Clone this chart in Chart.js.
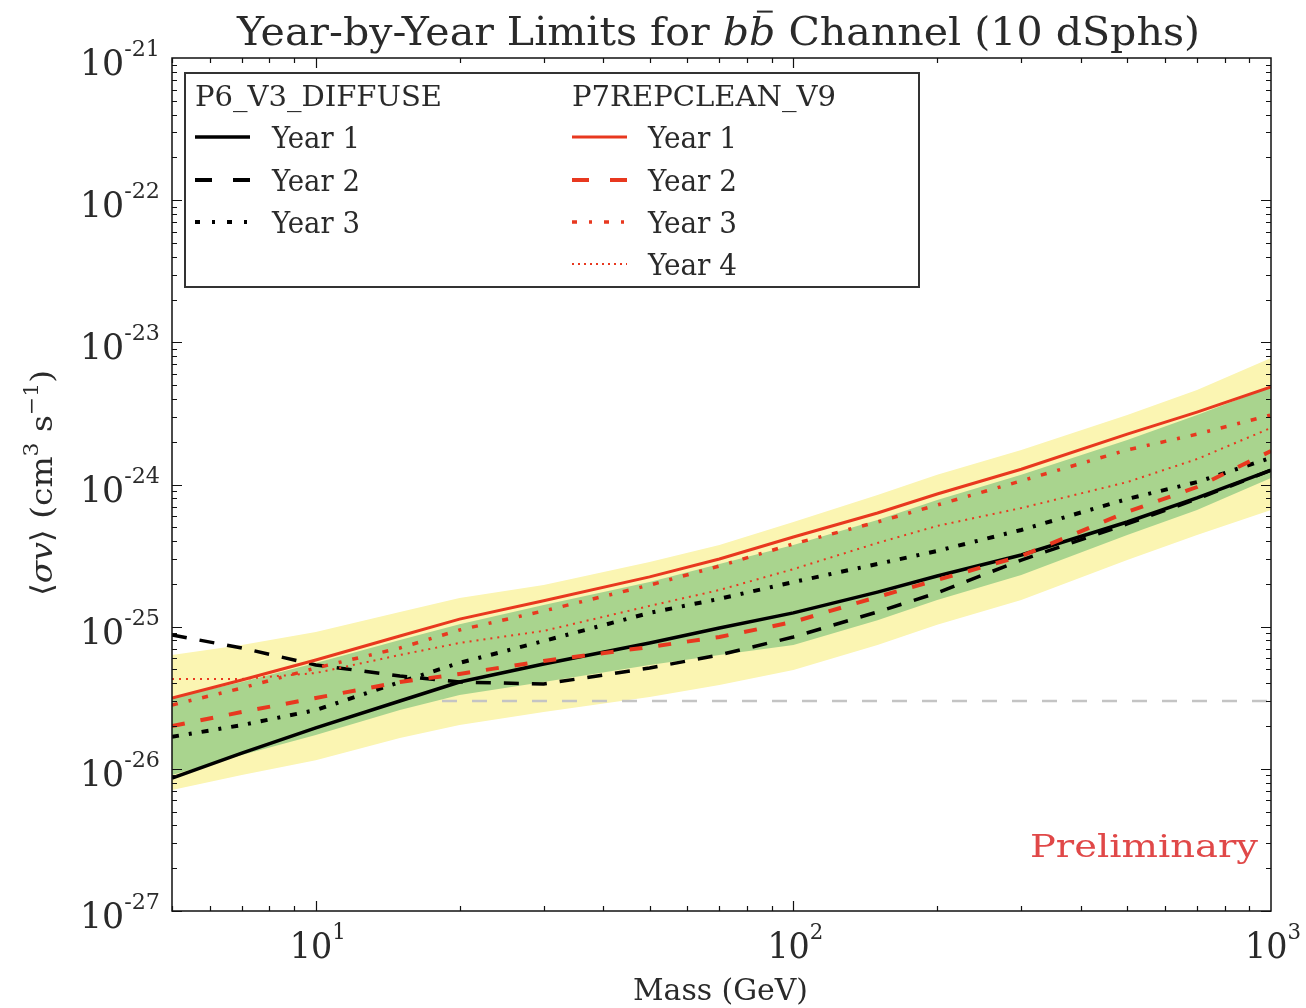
<!DOCTYPE html>
<html>
<head>
<meta charset="utf-8">
<script src="https://cdn.jsdelivr.net/npm/chart.js@4.4.1/dist/chart.umd.min.js"></script>
<style>
  body { margin: 0; background: #fff; }
  canvas { display: block; }
</style>
</head>
<body>
<canvas id="limits" width="1306" height="1008"></canvas>
<script>
// masses (GeV) the curves were read at
const mass = [5, 7, 10, 15, 20, 30, 50, 70, 100, 150, 200, 300, 500, 700, 1000];

// P6_V3_DIFFUSE limits
const p6Year1 = [8.62e-27, 1.29e-26, 1.94e-26, 3.00e-26, 4.08e-26, 5.47e-26, 7.68e-26, 9.79e-26, 1.25e-25, 1.75e-25, 2.27e-25, 3.19e-25, 5.45e-25, 8.04e-25, 1.26e-24];
const p6Year2 = [8.74e-26, 7.08e-26, 5.38e-26, 4.50e-26, 4.08e-26, 3.95e-26, 5.12e-26, 6.32e-26, 8.46e-26, 1.27e-25, 1.73e-25, 2.94e-25, 5.28e-25, 7.91e-25, 1.26e-24];
const p6Year3 = [1.68e-26, 2.03e-26, 2.59e-26, 4.08e-26, 5.56e-26, 7.93e-26, 1.25e-25, 1.57e-25, 2.06e-25, 2.76e-25, 3.41e-25, 4.79e-25, 7.91e-25, 1.04e-24, 1.54e-24];

// P7REPCLEAN_V9 limits
const p7Year1 = [3.15e-26, 4.22e-26, 5.83e-26, 8.60e-26, 1.13e-25, 1.52e-25, 2.24e-25, 2.99e-25, 4.27e-25, 6.30e-25, 8.58e-25, 1.28e-24, 2.26e-24, 3.23e-24, 4.85e-24];
const p7Year2 = [2.00e-26, 2.51e-26, 3.15e-26, 4.08e-26, 4.65e-26, 5.74e-26, 7.20e-26, 8.46e-26, 1.08e-25, 1.62e-25, 2.13e-25, 3.14e-25, 6.41e-25, 9.60e-25, 1.72e-24];
const p7Year3 = [2.81e-26, 3.70e-26, 5.12e-26, 7.08e-26, 9.48e-26, 1.29e-25, 1.96e-25, 2.67e-25, 3.82e-25, 5.45e-25, 7.17e-25, 1.06e-24, 1.75e-24, 2.26e-24, 3.08e-24];
const p7Year4 = [4.29e-26, 4.29e-26, 4.72e-26, 6.32e-26, 7.68e-26, 9.33e-26, 1.40e-25, 1.81e-25, 2.54e-25, 3.88e-25, 5.11e-25, 6.83e-25, 1.04e-24, 1.51e-24, 2.50e-24];

// expected sensitivity bands
const band68Upper = [3.15e-26, 4.08e-26, 5.56e-26, 8.06e-26, 1.04e-25, 1.42e-25, 2.06e-25, 2.76e-25, 3.75e-25, 5.63e-25, 7.78e-25, 1.17e-24, 2.06e-24, 3.08e-24, 4.85e-24];
const band68Lower = [9.05e-27, 1.25e-26, 1.73e-26, 2.59e-26, 3.31e-26, 4.08e-26, 5.38e-26, 6.32e-26, 7.43e-26, 1.11e-25, 1.54e-25, 2.31e-25, 4.41e-25, 6.62e-25, 1.11e-24];
const band95Upper = [6.32e-26, 7.43e-26, 9.18e-26, 1.27e-25, 1.59e-25, 1.96e-25, 2.85e-25, 3.75e-25, 5.45e-25, 8.44e-25, 1.17e-24, 1.75e-24, 3.08e-24, 4.62e-24, 7.76e-24];
const band95Lower = [7.10e-27, 9.05e-27, 1.15e-26, 1.65e-26, 2.03e-26, 2.51e-26, 3.20e-26, 3.89e-26, 4.96e-26, 7.43e-26, 1.03e-25, 1.54e-25, 2.94e-25, 4.41e-25, 6.62e-25];

// thermal relic cross section
const relicMass = [5, 1000];
const relicValue = [3e-26, 3e-26];

// axis decades
const yTickExps = [-27, -26, -25, -24, -23, -22, -21];
const xTickExps = [1, 2, 3];

const RED = '#e8381f';
const INK = '#2a2a2a';
const FONT = 'DejaVu Serif';

const pts = (vals, xs = mass) => vals.map((v, i) => ({ x: xs[i], y: v }));

function line(data, color, width, dash) {
  return {
    data: pts(data), borderColor: color, borderWidth: width, borderDash: dash,
    borderCapStyle: 'butt', pointRadius: 0, fill: false, tension: 0
  };
}

// draw a run of text pieces, squeezed horizontally to fit a width if asked
function rich(ctx, segs, x, y, opts) {
  let w = 0;
  segs.forEach(s => {
    ctx.font = (s.italic ? 'italic ' : '') + s.size + 'px "' + FONT + '"';
    s.w = ctx.measureText(s.t).width;
    w += s.w;
  });
  const sx = opts.width ? opts.width / w : 1;
  let x0 = x;
  if (opts.align === 'center') x0 = x - w * sx / 2;
  else if (opts.align === 'right') x0 = x - w * sx;
  ctx.save();
  ctx.translate(x0, y);
  ctx.scale(sx, 1);
  ctx.fillStyle = opts.color || INK;
  ctx.textAlign = 'left';
  ctx.textBaseline = 'alphabetic';
  let cx = 0;
  segs.forEach(s => {
    ctx.font = (s.italic ? 'italic ' : '') + s.size + 'px "' + FONT + '"';
    ctx.fillText(s.t, cx, s.dy || 0);
    if (s.bar) ctx.fillRect(cx + s.w * 0.3, -s.size * 0.86, s.w * 0.6, s.size * 0.05);
    cx += s.w;
  });
  ctx.restore();
}

const decor = {
  id: 'decor',
  beforeDraw(chart) {
    const ctx = chart.ctx;
    ctx.save();
    ctx.fillStyle = '#fff';
    ctx.fillRect(0, 0, chart.width, chart.height);
    ctx.restore();
  },
  afterDraw(chart) {
    const { ctx, chartArea: a, scales: { x, y } } = chart;
    ctx.save();

    // frame
    ctx.strokeStyle = '#111';
    ctx.lineWidth = 1.5;
    ctx.strokeRect(a.left, a.top, a.right - a.left, a.bottom - a.top);

    // inward ticks on all sides
    ctx.lineWidth = 1.2;
    ctx.beginPath();
    for (let e = yTickExps[0]; e < yTickExps[yTickExps.length - 1]; e++) {
      for (let k = 1; k <= 9; k++) {
        const py = Math.round(y.getPixelForValue(k * Math.pow(10, e))) + 0.5;
        const len = k === 1 ? 10 : 5;
        ctx.moveTo(a.left, py); ctx.lineTo(a.left + len, py);
        ctx.moveTo(a.right, py); ctx.lineTo(a.right - len, py);
      }
    }
    for (let e = 0; e < xTickExps[xTickExps.length - 1]; e++) {
      for (let k = 1; k <= 9; k++) {
        const v = k * Math.pow(10, e);
        if (v < 5) continue;
        const px = Math.round(x.getPixelForValue(v)) + 0.5;
        const len = k === 1 ? 10 : 5;
        ctx.moveTo(px, a.bottom); ctx.lineTo(px, a.bottom - len);
        ctx.moveTo(px, a.top); ctx.lineTo(px, a.top + len);
      }
    }
    ctx.stroke();

    // tick labels
    yTickExps.forEach(e => {
      const py = y.getPixelForValue(Math.pow(10, e));
      rich(ctx, [{ t: '10', size: 36 }, { t: String(e), size: 23, dy: -19 }],
        160, py + 17, { align: 'right', width: 80 });
    });
    xTickExps.forEach(e => {
      const px = x.getPixelForValue(Math.pow(10, e));
      rich(ctx, [{ t: '10', size: 36 }, { t: String(e), size: 23, dy: -19 }],
        px + 2, a.bottom + 47, { align: 'center', width: 56 });
    });

    // axis titles
    rich(ctx, [{ t: 'Mass (GeV)', size: 30 }], 633, 1000, { width: 175 });
    ctx.save();
    ctx.translate(52, 596);
    ctx.rotate(-Math.PI / 2);
    rich(ctx, [
      { t: '\u27E8', size: 30 }, { t: '\u03C3v', size: 30, italic: true }, { t: '\u27E9 (cm', size: 30 },
      { t: '3', size: 20, dy: -14 }, { t: ' s', size: 30 }, { t: '\u22121', size: 20, dy: -14 }, { t: ')', size: 30 }
    ], 0, 0, { width: 226 });
    ctx.restore();

    // title
    rich(ctx, [
      { t: 'Year-by-Year Limits for ', size: 40 },
      { t: 'b', size: 40, italic: true }, { t: 'b', size: 40, italic: true, bar: true },
      { t: ' Channel (10 dSphs)', size: 40 }
    ], 237, 45, { width: 963 });

    // preliminary stamp
    rich(ctx, [{ t: 'Preliminary', size: 32 }], 1258, 857, { align: 'right', width: 228, color: '#e04848' });

    // legend box
    ctx.fillStyle = '#fff';
    ctx.fillRect(185, 73, 734, 214);
    ctx.strokeStyle = '#333';
    ctx.lineWidth = 2;
    ctx.strokeRect(185, 73, 734, 214);

    rich(ctx, [{ t: 'P6_V3_DIFFUSE', size: 27 }], 195, 106, { width: 247 });
    rich(ctx, [{ t: 'P7REPCLEAN_V9', size: 27 }], 572, 106, { width: 264 });

    const rows = [137, 180, 222, 264];
    const leftStyles = [
      { c: '#000', w: 3.5, d: [] }, { c: '#000', w: 4, d: [17, 21] }, { c: '#000', w: 4, d: [5, 12, 3, 12] }
    ];
    const rightStyles = [
      { c: RED, w: 3, d: [] }, { c: RED, w: 4, d: [17, 21] }, { c: RED, w: 3.5, d: [5, 12, 3, 12] }, { c: RED, w: 2, d: [2, 4] }
    ];
    const sample = (x0, yy, s) => {
      ctx.beginPath();
      ctx.strokeStyle = s.c;
      ctx.lineWidth = s.w;
      ctx.setLineDash(s.d);
      ctx.lineCap = 'butt';
      ctx.moveTo(x0, yy); ctx.lineTo(x0 + 55, yy);
      ctx.stroke();
      ctx.setLineDash([]);
    };
    leftStyles.forEach((s, i) => {
      sample(195, rows[i], s);
      rich(ctx, [{ t: 'Year ' + (i + 1), size: 29 }], 272, rows[i] + 11, { width: 88 });
    });
    rightStyles.forEach((s, i) => {
      sample(572, rows[i], s);
      rich(ctx, [{ t: 'Year ' + (i + 1), size: 29 }], 648, rows[i] + 11, { width: 89 });
    });

    ctx.restore();
  }
};

new Chart(document.getElementById('limits'), {
  type: 'line',
  data: {
    datasets: [
      line(p7Year1, RED, 3, []),
      line(p7Year2, RED, 4, [13, 16]),
      line(p7Year3, RED, 3.5, [6, 11, 3, 11]),
      line(p7Year4, RED, 2, [2, 5]),
      line(p6Year1, '#000', 3.5, []),
      line(p6Year2, '#000', 3.5, [15, 13]),
      line(p6Year3, '#000', 4, [7, 10, 3, 10]),
      { data: pts(band68Upper), borderWidth: 0, pointRadius: 0, backgroundColor: '#a9d48e', fill: '+1' },
      { data: pts(band68Lower), borderWidth: 0, pointRadius: 0, fill: false },
      {
        data: pts(relicValue, relicMass), borderColor: '#c4c4c4', borderWidth: 2.5,
        borderDash: [15, 15], pointRadius: 0, fill: false
      },
      { data: pts(band95Upper), borderWidth: 0, pointRadius: 0, backgroundColor: '#fbf5b2', fill: '+1' },
      { data: pts(band95Lower), borderWidth: 0, pointRadius: 0, fill: false }
    ]
  },
  options: {
    responsive: false,
    animation: false,
    layout: { padding: { left: 0, right: 35, top: 58, bottom: 0 } },
    plugins: { legend: { display: false }, title: { display: false }, tooltip: { enabled: false } },
    scales: {
      x: {
        type: 'logarithmic', min: 5, max: 1000,
        grid: { display: false }, border: { display: false }, ticks: { display: false },
        afterFit: s => { s.height = 97; }
      },
      y: {
        type: 'logarithmic', min: 1e-27, max: 1e-21,
        grid: { display: false }, border: { display: false }, ticks: { display: false },
        afterFit: s => { s.width = 172; }
      }
    }
  },
  plugins: [decor]
});
</script>
</body>
</html>
